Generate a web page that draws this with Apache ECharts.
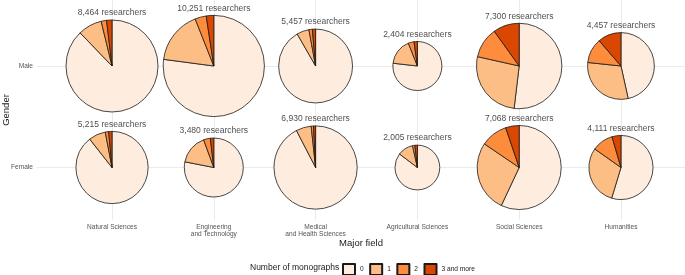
<!DOCTYPE html>
<html>
<head>
<meta charset="utf-8">
<script src="https://cdn.jsdelivr.net/npm/echarts@6/dist/echarts.min.js"></script>
<style>
html,body{margin:0;padding:0;background:#fff;}
#main{width:685px;height:275px;}
</style>
</head>
<body>
<div id="main"></div>
<script>
// ---- data ----
const fields = ['Natural Sciences', 'Engineering\nand Technology', 'Medical\nand Health Sciences', 'Agricultural Sciences', 'Social Sciences', 'Humanities'];
const genders = ['Female', 'Male'];
const monographs = ['0', '1', '2', '3 and more'];
const maleResearchers = [8464, 10251, 5457, 2404, 7300, 4457];
const femaleResearchers = [5215, 3480, 6930, 2005, 7068, 4111];
// share (%) of researchers by number of monographs [0, 1, 2, 3 and more], per field
const maleShares = [
  [87.8, 8.4, 1.9, 1.9],
  [77.1, 16.9, 3.6, 2.4],
  [91.7, 5.4, 1.5, 1.4],
  [76.8, 17.2, 3.8, 2.2],
  [51.9, 26.6, 11.6, 9.9],
  [46.5, 30.1, 12.0, 11.3]
];
const femaleShares = [
  [89.4, 7.6, 1.5, 1.5],
  [78.1, 16.3, 3.7, 1.9],
  [92.4, 5.9, 0.9, 0.8],
  [85.3, 11.2, 1.75, 1.75],
  [57.0, 27.5, 10.3, 5.2],
  [54.7, 30.1, 10.7, 4.5]
];
const palette = ['#FEEDDE', '#FDBE85', '#FD8D3C', '#D94701'];

// ---- chart ----
const FONT = 'Liberation Sans';
const chart = echarts.init(document.getElementById('main'), null, {renderer: 'canvas'});

const labelData = [];
genders.forEach((g, gi) => fields.forEach((f, fi) => {
  const n = gi === 1 ? maleResearchers[fi] : femaleResearchers[fi];
  labelData.push([fi, gi, n]);
}));

const labelSeries = {
  type: 'scatter',
  name: 'labels',
  data: labelData,
  symbolSize: d => Math.sqrt(d[2]),
  itemStyle: {color: 'rgba(0,0,0,0)'},
  silent: true,
  z: 10,
  label: {
    show: true, position: 'top', distance: 2.5,
    formatter: p => p.data[2].toLocaleString('en-US') + ' researchers',
    fontFamily: FONT, fontSize: 8.5, color: '#1a1a1a'
  }
};

chart.setOption({
  animation: false,
  color: palette,
  textStyle: {fontFamily: FONT},
  grid: {left: 37, right: 0, top: 0, bottom: 55, containLabel: false, outerBoundsMode: 'none'},
  xAxis: {
    type: 'value', min: -0.737, max: 5.629, minInterval: 1, maxInterval: 1,
    axisLine: {show: false}, axisTick: {show: false},
    splitLine: {show: true, showMinLine: false, showMaxLine: false, lineStyle: {color: '#ebebeb', width: 1}},
    axisLabel: {
      showMinLabel: false, showMaxLabel: false,
      formatter: v => (Number.isInteger(v) && v >= 0 && v < fields.length) ? fields[v] : '',
      fontFamily: FONT, fontSize: 6.6, color: '#555', lineHeight: 7.5, margin: 3
    },
    name: 'Major field', nameLocation: 'middle', nameGap: 18.5, nameMoveOverlap: false,
    nameTextStyle: {fontFamily: FONT, fontSize: 9.5, color: '#1a1a1a'}
  },
  yAxis: {
    type: 'value', min: -0.517, max: 1.650, minInterval: 1, maxInterval: 1,
    axisLine: {show: false}, axisTick: {show: false},
    splitLine: {show: true, showMinLine: false, showMaxLine: false, lineStyle: {color: '#ebebeb', width: 1}},
    axisLabel: {
      showMinLabel: false, showMaxLabel: false,
      formatter: v => (Number.isInteger(v) && v >= 0 && v < genders.length) ? genders[v] : '',
      fontFamily: FONT, fontSize: 6.6, color: '#555', margin: 4
    },
    name: 'Gender', nameLocation: 'middle', nameGap: 26, nameRotate: 90, nameMoveOverlap: false,
    nameTextStyle: {fontFamily: FONT, fontSize: 9.5, color: '#1a1a1a'}
  },
  legend: {
    data: monographs, left: 342, top: 263, padding: 0,
    itemWidth: 12, itemHeight: 11, itemGap: 5.5, icon: 'rect',
    textStyle: {fontFamily: FONT, fontSize: 6.6, color: '#1a1a1a', padding: [0, 0, 0, 0]}
  },
  graphic: [{
    type: 'text', left: 250, top: 263.5,
    style: {text: 'Number of monographs', font: '8.5px "Liberation Sans"', fill: '#1a1a1a'}
  }],
  series: [labelSeries]
});

const pies = [];
genders.forEach((g, gi) => fields.forEach((f, fi) => {
  const n = gi === 1 ? maleResearchers[fi] : femaleResearchers[fi];
  const shares = gi === 1 ? maleShares[fi] : femaleShares[fi];
  const c = chart.convertToPixel({gridIndex: 0}, [fi, gi]);
  pies.push({
    type: 'pie',
    center: c,
    radius: 0.5 * Math.sqrt(n),
    startAngle: 90,
    clockwise: true,
    avoidLabelOverlap: false,
    silent: true,
    label: {show: false}, labelLine: {show: false},
    emphasis: {disabled: true},
    itemStyle: {borderColor: '#1a1a1a', borderWidth: 0.8},
    data: monographs.map((m, k) => ({name: m, value: shares[k]}))
  });
}));

chart.setOption({series: [labelSeries].concat(pies)});
</script>
</body>
</html>
